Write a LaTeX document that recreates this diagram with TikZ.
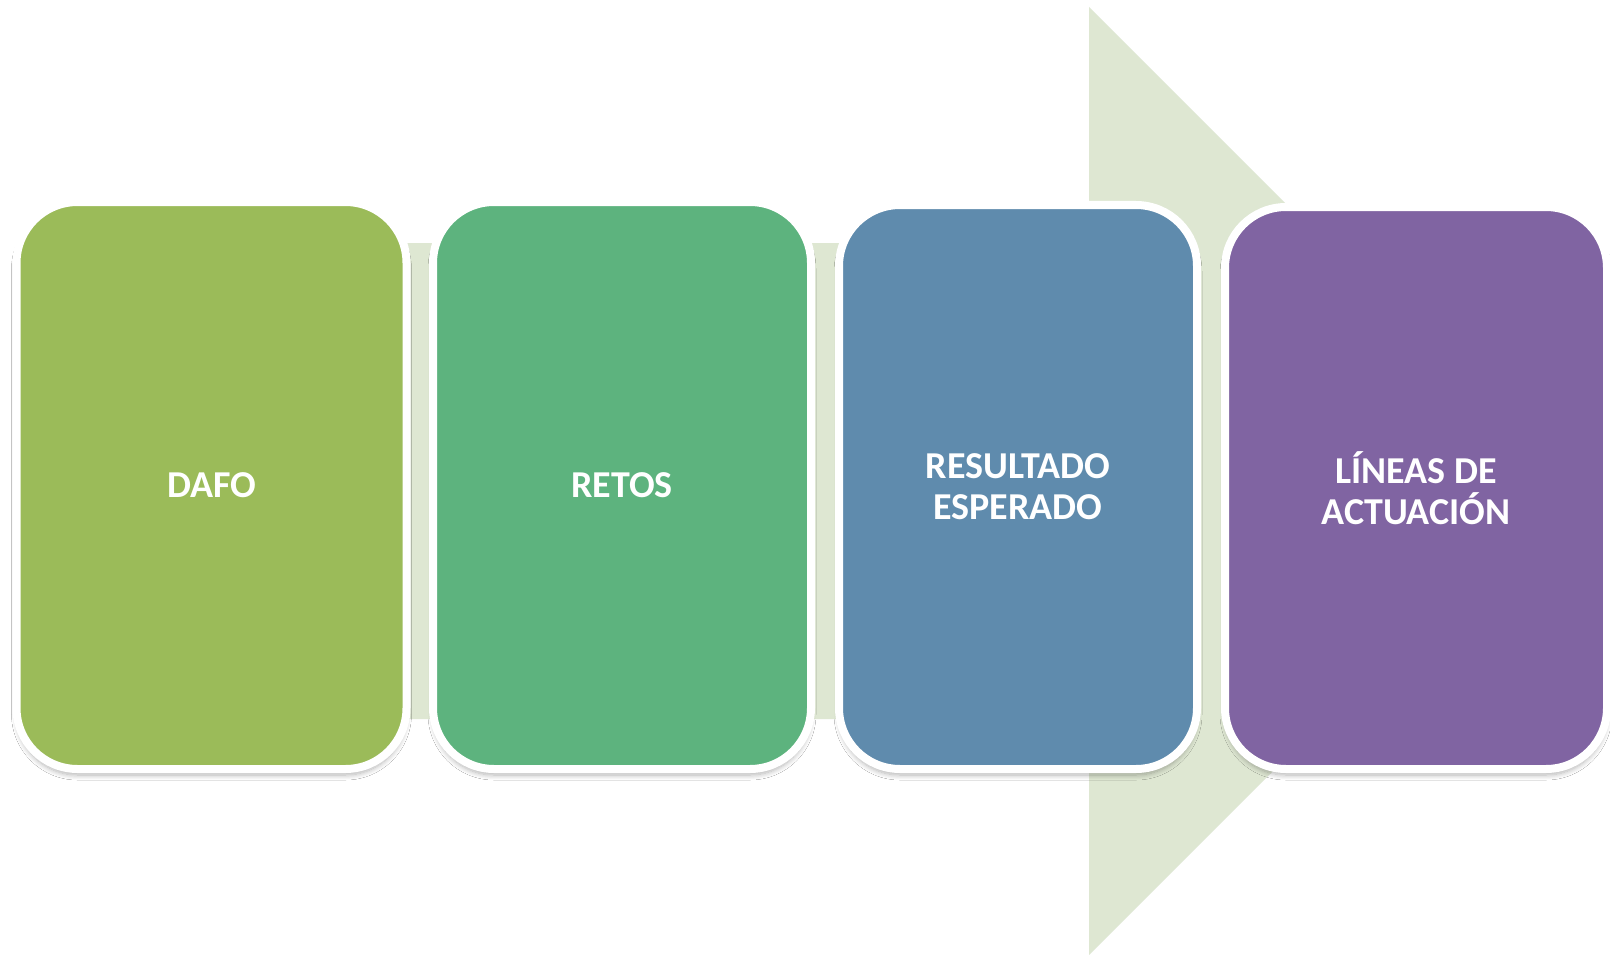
\documentclass[tikz,border=0pt]{standalone}
\usepackage{fontspec}
\setmainfont{Carlito}
\usetikzlibrary{shadows.blur}
\definecolor{arrowc}{HTML}{DEE7D2}
\definecolor{cA}{HTML}{9BBB59}
\definecolor{cB}{HTML}{5DB37E}
\definecolor{cC}{HTML}{5F8BAD}
\definecolor{cD}{HTML}{8064A2}
\tikzset{
  stepbox/.style={rounded corners=61pt, draw=white, line width=8pt, inner sep=0pt,
    minimum height=567pt, text=white, align=center,
    font=\fontsize{38}{41}\selectfont\bfseries,
    blur shadow={shadow xshift=0pt, shadow yshift=-6pt, shadow blur radius=5pt, shadow blur steps=10, shadow opacity=30}},
  bigarrow/.style={fill=arrowc, draw=none}
}
\begin{document}
\begin{tikzpicture}[x=1pt, y=-1pt]
\useasboundingbox (0,0) rectangle (1610,955);
\fill[white] (0,0) rectangle (1610,955);
\coordinate (a1) at (30,243);
\coordinate (a2) at (1089,243);
\coordinate (a3) at (1089,7);
\coordinate (tip) at (1563,481);
\coordinate (a5) at (1089,955);
\coordinate (a6) at (1089,719);
\coordinate (a7) at (30,719);
\path[bigarrow] (a1) -- (a2) -- (a3) -- (tip) -- (a5) -- (a6) -- (a7) -- cycle;
\node[stepbox, fill=cA, minimum width=390pt, minimum height=567pt] (dafo) at (211.5,485.5) {DAFO};
\node[stepbox, fill=cB, minimum width=378pt, minimum height=567pt] (retos) at (622,485.5) {RETOS};
\node[stepbox, fill=cC, minimum width=358pt, minimum height=564pt] (res) at (1018,487) {RESULTADO\\ESPERADO};
\node[stepbox, fill=cD, minimum width=382pt, minimum height=562pt] (lin) at (1416,488) {LÍNEAS DE\\ACTUACIÓN};
\end{tikzpicture}
\end{document}
